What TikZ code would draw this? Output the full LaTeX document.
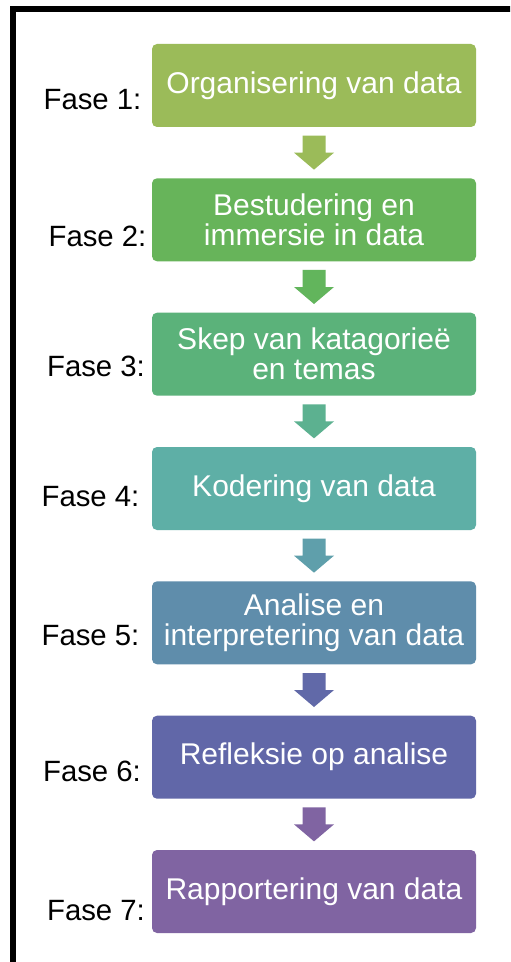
\documentclass[tikz,border=0pt]{standalone}
\usepackage{fontspec}
\setmainfont{Liberation Sans}
\usetikzlibrary{calc}
\definecolor{c1}{HTML}{9BBB59}
\definecolor{c2}{HTML}{67B45A}
\definecolor{c3}{HTML}{5BB27A}
\definecolor{c4}{HTML}{5EAFA6}
\definecolor{c5}{HTML}{5F8DAB}
\definecolor{c6}{HTML}{6167A8}
\definecolor{c7}{HTML}{8064A2}
\definecolor{a1}{HTML}{9BBB59}
\definecolor{a2}{HTML}{62B55C}
\definecolor{a3}{HTML}{5CB190}
\definecolor{a4}{HTML}{5F9FAB}
\definecolor{a5}{HTML}{6169A8}
\definecolor{a6}{HTML}{8064A2}
\tikzset{
  stepbox/.style={fill=#1, rounded corners=3.75pt, minimum width=243pt, minimum height=62.25pt,
    inner sep=0pt, text=white, align=center, font=\fontsize{22.5}{22.5}\selectfont},
  faselabel/.style={inner sep=0pt, text=black, font=\fontsize{22}{22}\selectfont},
  pics/blockarrow/.style={code={\fill[#1] (-11.5,-17) -- (11.5,-17) -- (11.5,0) -- (20,0) -- (0,17) -- (-20,0) -- (-11.5,0) -- cycle;}}
}
\begin{document}
\begin{tikzpicture}[x=0.75pt,y=-0.75pt]
\clip (0,0) rectangle (510,962);
\fill[white] (0,0) rectangle (510,962);
\draw[line width=4.5pt] (13,9) rectangle (560,1000);
\node[stepbox=c1] (b1) at (314,85.5) {Organisering van data};
\node[stepbox=c2] (b2) at (314,219.8) {Bestudering en\\immersie in data};
\node[stepbox=c3] (b3) at (314,354.2) {Skep van katagorieë\\en temas};
\node[stepbox=c4] (b4) at (314,488.5) {Kodering van data};
\node[stepbox=c5] (b5) at (314,622.8) {Analise en\\interpretering van data};
\node[stepbox=c6] (b6) at (314,757.2) {Refleksie op analise};
\node[stepbox=c7] (b7) at (314,891.5) {Rapportering van data};
\pic at ($(b1.south)!0.5!(b2.north)$) {blockarrow=a1};
\pic at ($(b2.south)!0.5!(b3.north)$) {blockarrow=a2};
\pic at ($(b3.south)!0.5!(b4.north)$) {blockarrow=a3};
\pic at ($(b4.south)!0.5!(b5.north)$) {blockarrow=a4};
\pic at ($(b5.south)!0.5!(b6.north)$) {blockarrow=a5};
\pic at ($(b6.south)!0.5!(b7.north)$) {blockarrow=a6};
\node[faselabel] (l1) at (92.5,100) {Fase 1:};
\node[faselabel] (l2) at (97.5,236) {Fase 2:};
\node[faselabel] (l3) at (96,366) {Fase 3:};
\node[faselabel] (l4) at (90.5,497) {Fase 4:};
\node[faselabel] (l5) at (90.5,636) {Fase 5:};
\node[faselabel] (l6) at (92,771) {Fase 6:};
\node[faselabel] (l7) at (96,911) {Fase 7:};
\end{tikzpicture}
\end{document}
